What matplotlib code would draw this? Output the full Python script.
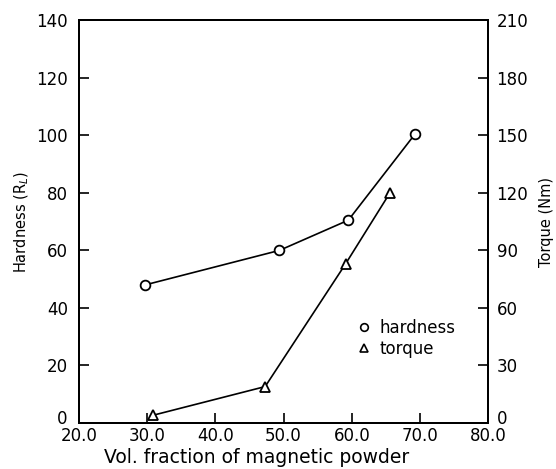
import matplotlib
matplotlib.use("Agg")
import matplotlib.pyplot as plt
import matplotlib.transforms as mtransforms
from matplotlib.lines import Line2D

# hardness (left axis)
hard_x = [29.7, 49.4, 59.5, 69.3]
hard_y = [48, 60, 70.5, 100.5]

# torque (right axis)
torq_x = [30.8, 47.3, 59.1, 65.6]
torq_y = [4, 19, 83, 120]

xticks = [20, 30, 40, 50, 60, 70, 80]
xticklabels = ["20.0", "30.0", "40.0", "50.0", "60.0", "70.0", "80.0"]
lticks = [0, 20, 40, 60, 80, 100, 120, 140]
rticks = [0, 30, 60, 90, 120, 150, 180, 210]

plt.rcParams['font.family'] = ['DejaVu Sans']

fig = plt.figure(figsize=(5.56, 4.69), dpi=100)
ax = fig.add_axes([0.142, 0.098, 0.736, 0.859])
ax2 = ax.twinx()

ax.plot(hard_x, hard_y, color='black', lw=1.2, marker='o', ms=7,
        mfc='white', mec='black', mew=1.3, zorder=3)
ax2.plot(torq_x, torq_y, color='black', lw=1.2, marker='^', ms=7,
         mfc='white', mec='black', mew=1.3, zorder=3)

ax.set_xlim(20, 80)
ax.set_ylim(0, 140)
ax2.set_ylim(0, 210)

ax.set_xticks(xticks)
ax.set_xticklabels(xticklabels, fontsize=12)
ax.set_yticks(lticks)
ax.set_yticklabels([str(v) for v in lticks], fontsize=12)
ax2.set_yticks(rticks)
ax2.set_yticklabels([str(v) for v in rticks], fontsize=12)

ax.tick_params(axis='x', direction='in', length=7, width=1.2, pad=3, top=False)
ax.tick_params(axis='y', direction='in', length=7, width=1.2, pad=8)
ax2.tick_params(axis='y', direction='in', length=7, width=1.2, pad=6)

# lift the two "0" labels a little, as in the original
lift = mtransforms.ScaledTranslation(0, 4 / 72, fig.dpi_scale_trans)
for a in (ax, ax2):
    lab = a.get_yticklabels()[0]
    lab.set_transform(lab.get_transform() + lift)

for a in (ax, ax2):
    for s in a.spines.values():
        s.set_linewidth(1.4)

ax.set_xlabel("Vol. fraction of magnetic powder", fontsize=13.5)
ax.xaxis.set_label_coords(0.433, -0.063)
ax.set_ylabel("Hardness (R$_L$)", fontsize=10.5, labelpad=4)
ax2.set_ylabel("Torque (Nm)", fontsize=10.5, labelpad=8)

handles = [
    Line2D([], [], ls='none', marker='o', ms=5.5, mfc='white', mec='black', mew=1.2),
    Line2D([], [], ls='none', marker='^', ms=5.5, mfc='white', mec='black', mew=1.2),
]
ax2.legend(handles, ["hardness", "torque"], loc='center left',
           bbox_to_anchor=(0.64, 0.21), frameon=False, fontsize=12,
           handletextpad=0.4, labelspacing=0.15, handlelength=1.0)

fig.savefig("out.png", dpi=100)
